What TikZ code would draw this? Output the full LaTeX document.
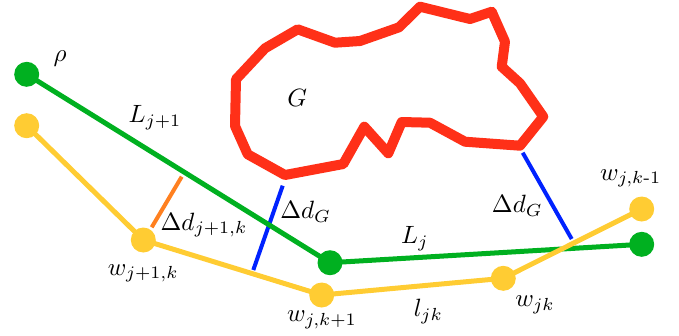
\documentclass[tikz,border=0pt]{standalone}
\usepackage{amsmath}
\definecolor{pathgreen}{RGB}{0,176,32}
\definecolor{pathyellow}{RGB}{255,204,51}
\definecolor{obstred}{RGB}{255,48,24}
\definecolor{gapblue}{RGB}{0,34,255}
\definecolor{gaporange}{RGB}{255,128,32}

\tikzset{
  greenpath/.style={pathgreen,line width=2pt},
  yellowpath/.style={pathyellow,line width=2pt},
  gapline/.style={line width=1.6pt,line cap=butt},
  lbl/.style={inner sep=1pt}
}

\begin{document}
\begin{tikzpicture}[x=0.4pt,y=-0.4pt,line cap=round,line join=round]
  \useasboundingbox (0,0) rectangle (679,335);

  % obstacle G
  \draw[obstred,line width=4pt] (297.7,29.3) -- (335,42.7) -- (360,41) -- (399,27.3)
    -- (420,6.7) -- (470,19) -- (491.7,11.7) -- (505,41.7) -- (501.7,66.7)
    -- (520,83.3) -- (543.3,116.7) -- (520,145.7) -- (465,141.7) -- (430,122.7)
    -- (401.7,122) -- (388.3,153.3) -- (364.3,126.7) -- (343.3,164) -- (285,175)
    -- (247.7,154.3) -- (235,126) -- (236,79.3) -- (265,48.3) -- cycle;
  \node[lbl] (G) at (297.3,98.3) {$G$};

  \coordinate (g1) at (26.7,74.3);
  \coordinate (g2) at (330,262.7);
  \coordinate (g3) at (641.7,244.3);
  \coordinate (y1) at (26.7,125.7);
  \coordinate (y2) at (143.3,240);
  \coordinate (y3) at (321.7,295);
  \coordinate (y4) at (503.3,278.3);
  \coordinate (y5) at (641.7,209);

  % distance markers
  \coordinate (o1) at (181.7,176.7);
  \coordinate (o2) at (151.7,227.3);
  \coordinate (b1) at (282.7,185.7);
  \coordinate (b2) at (253.3,270);
  \coordinate (b3) at (522.7,152.7);
  \coordinate (b4) at (571.7,239);
  \draw[gapline,gaporange] (o1) -- (o2);
  \draw[gapline,gapblue] (b1) -- (b2);
  \draw[gapline,gapblue] (b3) -- (b4);

  % paths
  \draw[greenpath] (g1) -- (g2) -- (g3);
  \draw[yellowpath] (y1) -- (y2) -- (y3) -- (y4) -- (y5);
  \foreach \p in {g1,g2,g3}
    \fill[pathgreen] (\p) circle (12.5);
  \foreach \p in {y1,y2,y3,y4,y5}
    \fill[pathyellow] (\p) circle (12.5);

  % labels
  \node[lbl] (rho) at (60,58.3) {$\rho$};
  \node[lbl] (Ljp) at (155,118) {$L_{j+1}$};
  \node[lbl] (Lj) at (415,238.3) {$L_j$};
  \node[lbl] (ddjk) at (204,225) {$\Delta d_{j+1,k}$};
  \node[lbl] (ddG1) at (305.7,211.7) {$\Delta d_G$};
  \node[lbl] (ddG2) at (517.3,206) {$\Delta d_G$};
  \node[lbl] (wjpk) at (143.3,273.3) {$w_{j+1,k}$};
  \node[lbl] (wjkp) at (322,320) {$w_{j,k+1}$};
  \node[lbl] (ljk) at (428.3,311.7) {$l_{jk}$};
  \node[lbl] (wjk) at (535,305) {$w_{jk}$};
  \node[lbl] (wjkm) at (630.7,178.3) {$w_{j,k\text{-}1}$};
\end{tikzpicture}
\end{document}
